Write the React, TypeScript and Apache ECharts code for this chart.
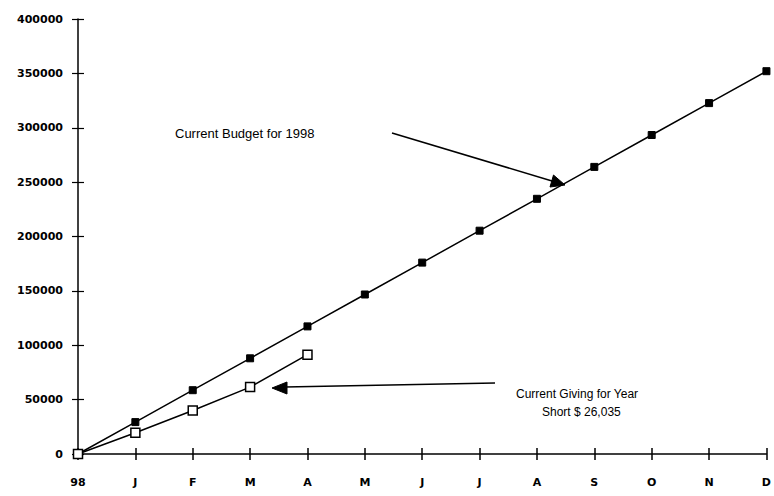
import React, { useEffect, useRef } from "react";
import * as echarts from "echarts";

const months = ["98", "J", "F", "M", "A", "M", "J", "J", "A", "S", "O", "N", "D"];
const budget = [0, 29333, 58667, 88000, 117333, 146667, 176000, 205333, 234667, 264000, 293333, 322667, 352000];
const giving = [0, 19500, 40000, 61500, 91298];
const yTicks = [0, 50000, 100000, 150000, 200000, 250000, 300000, 350000, 400000];

const FONT = "'Liberation Sans', Arial, Helvetica, sans-serif";
const AXFONT = "'DejaVu Sans', Verdana, sans-serif";

export default function App() {
  const ref = useRef<HTMLDivElement>(null);
  useEffect(() => {
    if (!ref.current) return;
    const chart = echarts.init(ref.current, null, { renderer: "svg" });
    const yBase = {
      type: "value" as const,
      min: yTicks[0],
      max: yTicks[yTicks.length - 1],
      interval: 50000,
      splitLine: { show: false },
    };
    chart.setOption({
      animation: false,
      backgroundColor: "#ffffff",
      grid: { left: 78, right: 2, top: 19, bottom: 42, containLabel: false },
      xAxis: [
        {
          type: "category",
          data: months,
          boundaryGap: false,
          axisLine: { lineStyle: { color: "#000", width: 1.5 } },
          axisTick: { show: true, length: 6, lineStyle: { color: "#000", width: 1.5 } },
          axisLabel: { color: "#000", fontFamily: AXFONT, fontWeight: "bold", fontSize: 11, margin: 23 },
        },
        {
          type: "category",
          data: months,
          boundaryGap: false,
          position: "bottom",
          axisLine: { show: false },
          axisTick: { show: true, inside: true, length: 6, lineStyle: { color: "#000", width: 1.5 } },
          axisLabel: { show: false },
        },
      ],
      yAxis: [
        {
          ...yBase,
          axisLine: { show: true, lineStyle: { color: "#000", width: 1.5 } },
          axisTick: { show: true, length: 6, lineStyle: { color: "#000", width: 1.2 } },
          axisLabel: {
            color: "#000",
            fontFamily: AXFONT,
            fontWeight: "bold",
            fontSize: 11,
            margin: 15,
            formatter: (v: number) => String(v),
          },
        },
        {
          ...yBase,
          position: "left",
          axisLine: { show: false },
          axisTick: { show: true, inside: true, length: 6, lineStyle: { color: "#000", width: 1.2 } },
          axisLabel: { show: false },
        },
      ],
      series: [
        {
          type: "line",
          data: budget,
          symbol: "rect",
          symbolSize: 7,
          showSymbol: true,
          itemStyle: { color: "#000", borderColor: "#000" },
          lineStyle: { color: "#000", width: 1.5 },
          z: 3,
        },
        {
          type: "line",
          data: giving,
          symbol: "rect",
          symbolSize: 9,
          showSymbol: true,
          itemStyle: { color: "#fff", borderColor: "#000", borderWidth: 1.5 },
          lineStyle: { color: "#000", width: 1.5 },
          z: 4,
        },
      ],
      graphic: [
        {
          type: "text",
          left: 175,
          top: 127,
          style: { text: "Current Budget for 1998", fill: "#000", font: `13px ${FONT}` },
        },
        {
          type: "line",
          shape: { x1: 392, y1: 133, x2: 552, y2: 181 },
          style: { stroke: "#000", lineWidth: 1.5 },
        },
        {
          type: "polygon",
          shape: { points: [[565, 185], [550, 187], [553.5, 175]] },
          style: { fill: "#000", stroke: "#000", lineWidth: 1 },
        },
        {
          type: "text",
          left: 516,
          top: 388,
          style: { text: "Current Giving for Year", fill: "#000", font: `12px ${FONT}` },
        },
        {
          type: "text",
          left: 542,
          top: 406,
          style: { text: "Short $ 26,035", fill: "#000", font: `12px ${FONT}` },
        },
        {
          type: "line",
          shape: { x1: 495, y1: 383, x2: 285, y2: 387 },
          style: { stroke: "#000", lineWidth: 1.5 },
        },
        {
          type: "polygon",
          shape: { points: [[272, 388], [287, 382], [287, 394]] },
          style: { fill: "#000", stroke: "#000", lineWidth: 1 },
        },
      ],
    });
    return () => chart.dispose();
  }, []);
  return <div ref={ref} style={{ width: 774, height: 496, position: "absolute", left: 0, top: 0 }} />;
}
